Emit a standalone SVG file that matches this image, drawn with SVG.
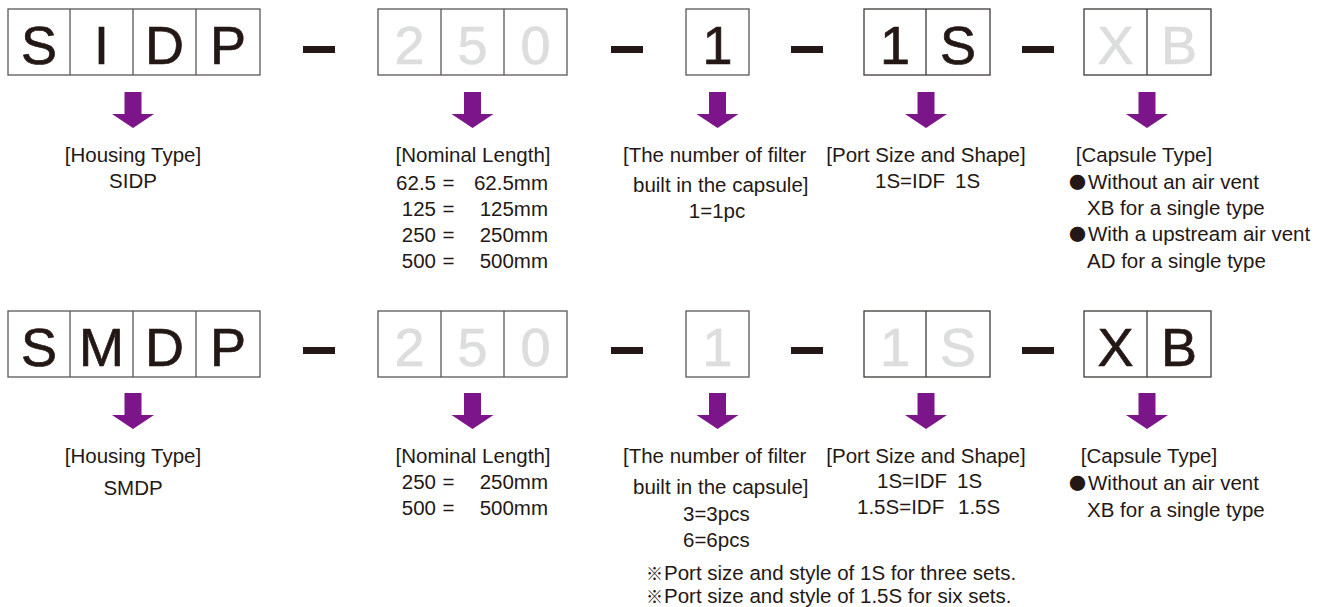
<svg xmlns="http://www.w3.org/2000/svg" width="1329" height="607" viewBox="0 0 1329 607">
<style>
.bx{fill:#fff;stroke:#5a5656;stroke-width:1.3}
.dv{stroke:#5a5656;stroke-width:1.3}
.big{font-family:"Liberation Sans",Arial,sans-serif;font-size:54px;text-anchor:middle;stroke-width:0.7}
.on{fill:#231815;stroke:#231815}
.off{fill:#dcdddd;stroke:#dcdddd}
.dash{fill:#231815}
.t{font-family:"Liberation Sans",Arial,sans-serif;font-size:20.5px;fill:#231815}
.s{font-family:"Noto Sans CJK JP","Liberation Sans",sans-serif;font-size:17px}
.m{text-anchor:middle}
.e{text-anchor:end}
.arr{fill:#7b1589}
</style>
<defs>
<path id="arrow" d="M-8.5,0 H8.5 V22 H21 L0,36 L-21,22 H-8.5 Z"/>
</defs>
<rect width="1329" height="607" fill="#fff"/>

<!-- Row 1 -->
<g id="r1-housing">
<rect class="bx" x="8" y="9" width="252" height="66"/>
<line class="dv" x1="70" y1="9" x2="70" y2="75"/><line class="dv" x1="133" y1="9" x2="133" y2="75"/><line class="dv" x1="196" y1="9" x2="196" y2="75"/>
<text class="big on" x="39" y="64">S</text><text class="big on" x="101.5" y="64">I</text><text class="big on" x="164.5" y="64">D</text><text class="big on" x="228" y="64">P</text>
</g>
<rect class="dash" x="303" y="46" width="32" height="7"/>
<g id="r1-length">
<rect class="bx" x="378" y="9" width="189" height="66"/>
<line class="dv" x1="441" y1="9" x2="441" y2="75"/><line class="dv" x1="504" y1="9" x2="504" y2="75"/>
<text class="big off" x="409.5" y="64">2</text><text class="big off" x="472.5" y="64">5</text><text class="big off" x="535.5" y="64">0</text>
</g>
<rect class="dash" x="611" y="46" width="32" height="7"/>
<g id="r1-number">
<rect class="bx" x="686" y="9" width="63" height="66"/>
<text class="big on" x="717.5" y="64">1</text>
</g>
<rect class="dash" x="791" y="46" width="32" height="7"/>
<g id="r1-port">
<rect class="bx" x="864" y="9" width="126" height="66" style="stroke:#3e3a39"/>
<line class="dv" x1="926" y1="9" x2="926" y2="75" style="stroke:#3e3a39"/>
<text class="big on" x="895" y="64">1</text><text class="big on" x="958" y="64">S</text>
</g>
<rect class="dash" x="1022" y="46" width="32" height="7"/>
<g id="r1-capsule">
<rect class="bx" x="1084" y="9" width="127" height="66" style="stroke:#3e3a39"/>
<line class="dv" x1="1147" y1="9" x2="1147" y2="75" style="stroke:#3e3a39"/>
<text class="big off" x="1115.5" y="64">X</text><text class="big off" x="1179" y="64">B</text>
</g>

<!-- Row 2 -->
<g id="r2-housing">
<rect class="bx" x="8" y="311" width="252" height="66"/>
<line class="dv" x1="70" y1="311" x2="70" y2="377"/><line class="dv" x1="133" y1="311" x2="133" y2="377"/><line class="dv" x1="196" y1="311" x2="196" y2="377"/>
<text class="big on" x="39" y="366">S</text><text class="big on" x="101.5" y="366">M</text><text class="big on" x="164.5" y="366">D</text><text class="big on" x="228" y="366">P</text>
</g>
<rect class="dash" x="303" y="347" width="32" height="7"/>
<g id="r2-length">
<rect class="bx" x="378" y="311" width="189" height="66"/>
<line class="dv" x1="441" y1="311" x2="441" y2="377"/><line class="dv" x1="504" y1="311" x2="504" y2="377"/>
<text class="big off" x="409.5" y="366">2</text><text class="big off" x="472.5" y="366">5</text><text class="big off" x="535.5" y="366">0</text>
</g>
<rect class="dash" x="611" y="347" width="32" height="7"/>
<g id="r2-number">
<rect class="bx" x="686" y="311" width="63" height="66"/>
<text class="big off" x="717.5" y="366">1</text>
</g>
<rect class="dash" x="791" y="347" width="32" height="7"/>
<g id="r2-port">
<rect class="bx" x="864" y="311" width="126" height="66" style="stroke:#3e3a39"/>
<line class="dv" x1="926" y1="311" x2="926" y2="377" style="stroke:#3e3a39"/>
<text class="big off" x="895" y="366">1</text><text class="big off" x="958" y="366">S</text>
</g>
<rect class="dash" x="1022" y="347" width="32" height="7"/>
<g id="r2-capsule">
<rect class="bx" x="1084" y="311" width="127" height="66" style="stroke:#3e3a39"/>
<line class="dv" x1="1147" y1="311" x2="1147" y2="377" style="stroke:#3e3a39"/>
<text class="big on" x="1115.5" y="366">X</text><text class="big on" x="1179" y="366">B</text>
</g>

<g id="connectors" class="arr">
<use href="#arrow" x="133" y="92"/>
<use href="#arrow" x="472.5" y="92"/>
<use href="#arrow" x="717.5" y="92"/>
<use href="#arrow" x="926" y="92"/>
<use href="#arrow" x="1147" y="92"/>
<use href="#arrow" x="133" y="393"/>
<use href="#arrow" x="472.5" y="393"/>
<use href="#arrow" x="717.5" y="393"/>
<use href="#arrow" x="926" y="393"/>
<use href="#arrow" x="1147" y="393"/>
</g>

<!-- Row 1 descriptions -->
<g id="r1-housing-desc" class="t">
<text class="m" x="133" y="162">[Housing Type]</text>
<text class="m" x="133" y="188">SIDP</text>
</g>
<g id="r1-length-desc" class="t">
<text class="m" x="473" y="162">[Nominal Length]</text>
<text class="e" x="436" y="190">62.5</text><text class="m" x="448.5" y="190">=</text><text class="e" x="548" y="190">62.5mm</text>
<text class="e" x="436" y="216">125</text><text class="m" x="448.5" y="216">=</text><text class="e" x="548" y="216">125mm</text>
<text class="e" x="436" y="242">250</text><text class="m" x="448.5" y="242">=</text><text class="e" x="548" y="242">250mm</text>
<text class="e" x="436" y="268">500</text><text class="m" x="448.5" y="268">=</text><text class="e" x="548" y="268">500mm</text>
</g>
<g id="r1-number-desc" class="t">
<text x="623" y="162">[The number of filter</text>
<text x="633" y="192">built in the capsule]</text>
<text class="m" x="717" y="218">1=1pc</text>
</g>
<g id="r1-port-desc" class="t">
<text class="m" x="926" y="162">[Port Size and Shape]</text>
<text x="875" y="188">1S=IDF</text><text x="955" y="188">1S</text>
</g>
<g id="r1-capsule-desc" class="t">
<text class="m" x="1144" y="162">[Capsule Type]</text>
<text class="s" x="1069" y="189">●</text><text x="1088" y="189">Without an air vent</text>
<text x="1087" y="215">XB for a single type</text>
<text class="s" x="1069" y="241">●</text><text x="1088" y="241">With a upstream air vent</text>
<text x="1087" y="268">AD for a single type</text>
</g>

<!-- Row 2 descriptions -->
<g id="r2-housing-desc" class="t">
<text class="m" x="133" y="463">[Housing Type]</text>
<text class="m" x="133" y="495">SMDP</text>
</g>
<g id="r2-length-desc" class="t">
<text class="m" x="473" y="463">[Nominal Length]</text>
<text class="e" x="436" y="489">250</text><text class="m" x="448.5" y="489">=</text><text class="e" x="548" y="489">250mm</text>
<text class="e" x="436" y="515">500</text><text class="m" x="448.5" y="515">=</text><text class="e" x="548" y="515">500mm</text>
</g>
<g id="r2-number-desc" class="t">
<text x="623" y="463">[The number of filter</text>
<text x="633" y="494">built in the capsule]</text>
<text x="683" y="521">3=3pcs</text>
<text x="683" y="547">6=6pcs</text>
<text class="s" x="646" y="580">※</text><text x="664" y="580">Port size and style of 1S for three sets.</text>
<text class="s" x="646" y="603">※</text><text x="664" y="603">Port size and style of 1.5S for six sets.</text>
</g>
<g id="r2-port-desc" class="t">
<text class="m" x="926" y="463">[Port Size and Shape]</text>
<text x="877" y="488">1S=IDF</text><text x="957" y="488">1S</text>
<text x="857" y="514">1.5S=IDF</text><text x="958" y="514">1.5S</text>
</g>
<g id="r2-capsule-desc" class="t">
<text class="m" x="1149" y="463">[Capsule Type]</text>
<text class="s" x="1069" y="490">●</text><text x="1088" y="490">Without an air vent</text>
<text x="1087" y="517">XB for a single type</text>
</g>
</svg>
